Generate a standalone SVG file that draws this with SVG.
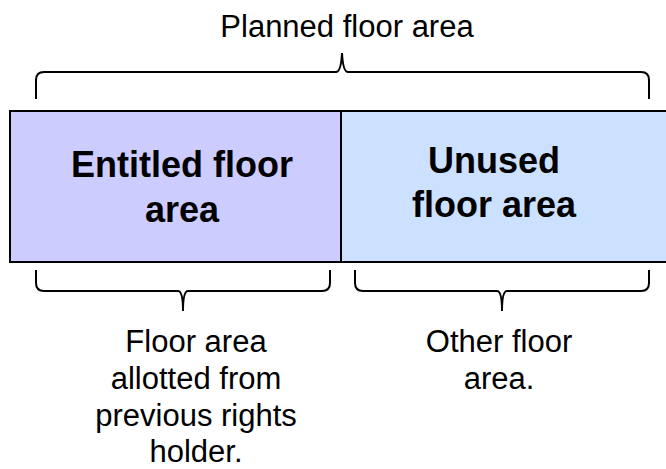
<svg xmlns="http://www.w3.org/2000/svg" width="666" height="469" viewBox="0 0 666 469">
<style>
.t{font-family:"Liberation Sans",Arial,sans-serif;font-size:31px;fill:#000;text-anchor:middle}
.b{font-family:"Liberation Sans",Arial,sans-serif;font-size:36px;font-weight:bold;fill:#000;text-anchor:middle}
.br{fill:none;stroke:#000;stroke-width:2}
.box{stroke:#000;stroke-width:2}
</style>
<rect width="666" height="469" fill="#fff"/>
<g id="title"><text class="t" x="347" y="37">Planned floor area</text></g>
<g id="entitled">
<rect class="box" x="10" y="111" width="331" height="151" fill="#CCCCFF"/>
<text class="b" x="182" y="177">Entitled floor</text>
<text class="b" x="182" y="222">area</text>
</g>
<g id="unused">
<rect class="box" x="341" y="111" width="335" height="151" fill="#CCE0FF"/>
<text class="b" x="494" y="173">Unused</text>
<text class="b" x="494" y="217">floor area</text>
</g>
<g id="connectors">
<path class="br" d="M36,99 L36,80 Q36,72 44,72 L336,72 Q341,72 342,53 Q343,72 348,72 L641,72 Q649,72 649,80 L649,99"/>
<path class="br" d="M36,270 L36,283 Q36,291 44,291 L178,291 Q183,291 183,311 Q183,291 188,291 L322,291 Q330,291 330,283 L330,270"/>
<path class="br" d="M355,270 L355,283 Q355,291 363,291 L497,291 Q502,291 502,311 Q502,291 507,291 L641,291 Q649,291 649,283 L649,270"/>
</g>
<g id="left-label">
<text class="t" x="196" y="352">Floor area</text>
<text class="t" x="196" y="389">allotted from</text>
<text class="t" x="196" y="426">previous rights</text>
<text class="t" x="196" y="462">holder.</text>
</g>
<g id="right-label">
<text class="t" x="499" y="352">Other floor</text>
<text class="t" x="499" y="389">area.</text>
</g>
</svg>
